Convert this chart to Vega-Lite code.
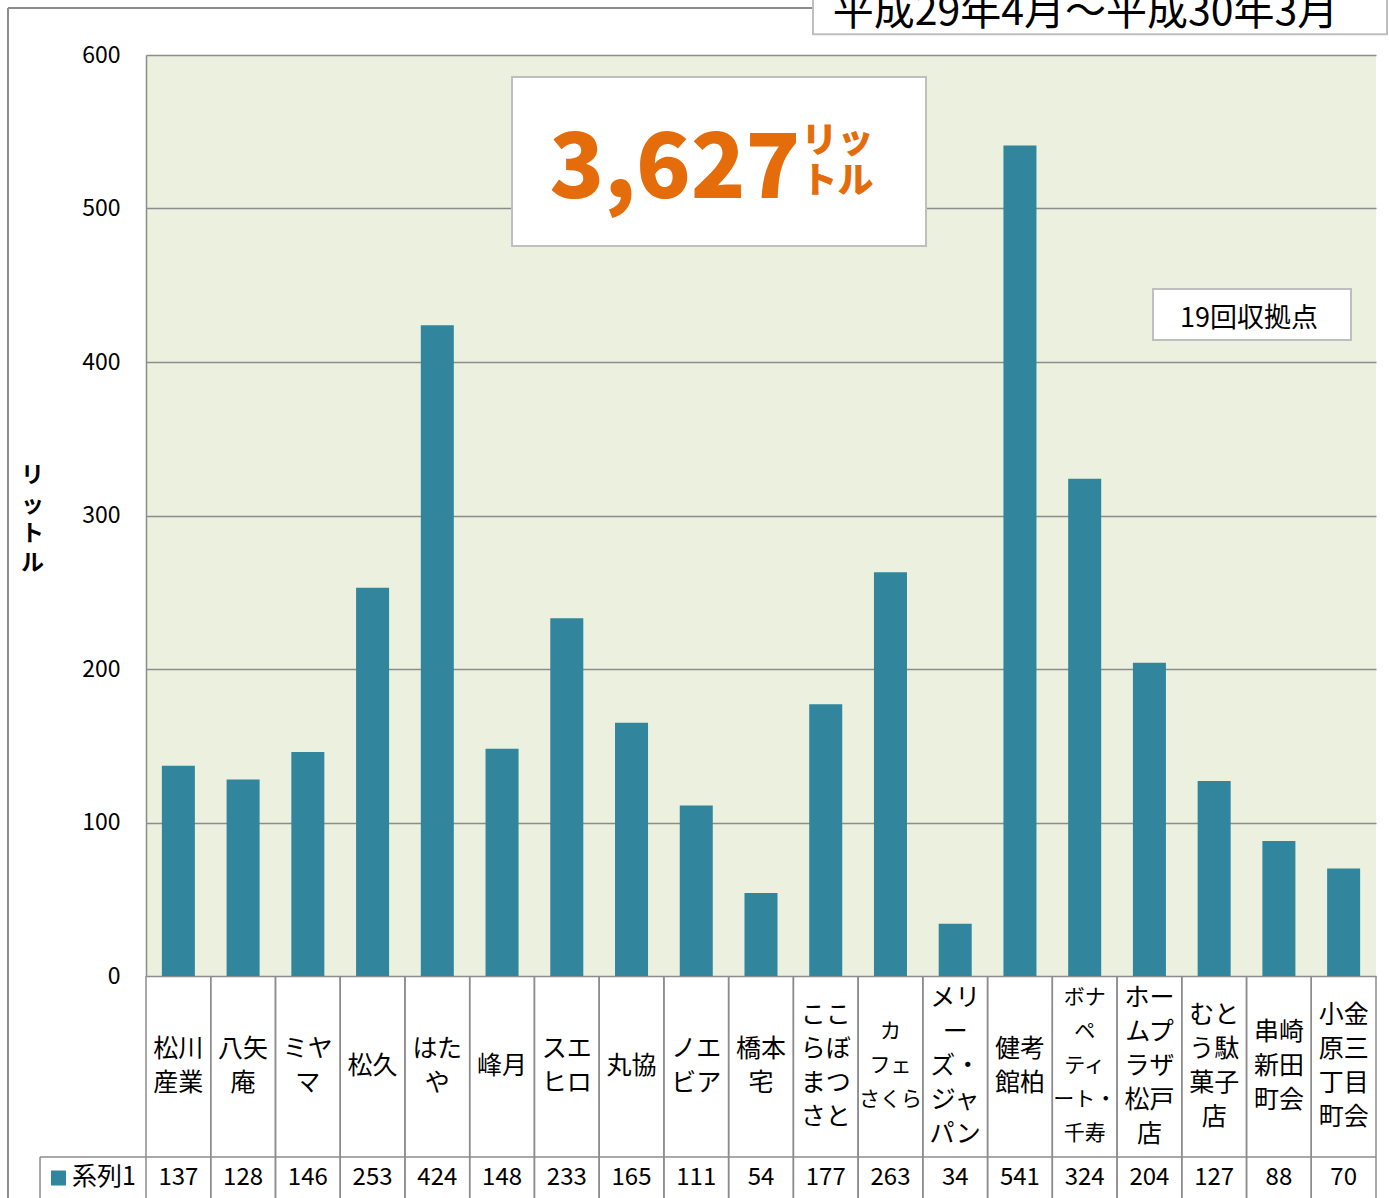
{
  "$schema": "https://vega.github.io/schema/vega-lite/v6.json",
  "width": 1230,
  "height": 921,
  "autosize": {"type": "none"},
  "padding": {"left": 146, "top": 55, "right": 13, "bottom": 222},
  "background": "white",
  "config": {
    "view": {"fill": "#EBF1DE", "stroke": null},
    "font": "Noto Sans CJK JP",
    "text": {"font": "Noto Sans CJK JP", "color": "black"}
  },
  "datasets": {
    "bars": [
      {"cat": "松川\n産業", "value": 137},
      {"cat": "八矢\n庵", "value": 128},
      {"cat": "ミヤ\nマ", "value": 146},
      {"cat": "松久", "value": 253},
      {"cat": "はた\nや", "value": 424},
      {"cat": "峰月", "value": 148},
      {"cat": "スエ\nヒロ", "value": 233},
      {"cat": "丸協", "value": 165},
      {"cat": "ノエ\nビア", "value": 111},
      {"cat": "橋本\n宅", "value": 54},
      {"cat": "ここ\nらぼ\nまつ\nさと", "value": 177},
      {"cat": "カ\nフェ\nさくら", "value": 263},
      {"cat": "メリ\nー\nズ・\nジャ\nパン", "value": 34},
      {"cat": "健考\n館柏", "value": 541},
      {"cat": "ボナ\nペ\nティ\nート・\n千寿", "value": 324},
      {"cat": "ホー\nムプ\nラザ\n松戸\n店", "value": 204},
      {"cat": "むと\nう駄\n菓子\n店", "value": 127},
      {"cat": "串崎\n新田\n町会", "value": 88},
      {"cat": "小金\n原三\n丁目\n町会", "value": 70}
    ]
  },
  "resolve": {"scale": {"x": "independent"}},
  "layer": [
    {
      "data": {"name": "bars"},
      "mark": {"type": "bar", "color": "#31859C"},
      "encoding": {
        "x": {
          "field": "cat", "type": "nominal", "sort": null,
          "scale": {"paddingInner": 0.49, "paddingOuter": 0.245},
          "axis": null
        },
        "y": {
          "field": "value", "type": "quantitative",
          "scale": {"domain": [0, 600], "nice": false},
          "axis": {
            "zindex": 0,
            "title": ["リ", "ッ", "ト", "ル"], "titleAngle": 0, "titleX": -114, "titleY": 420,
            "titleAlign": "center", "titleBaseline": "middle", "titleFontSize": 23, "titleFontWeight": "bold",
            "titleLineHeight": 29, "titleColor": "black", "titleFont": "Noto Sans CJK JP",
            "values": [0, 100, 200, 300, 400, 500, 600],
            "grid": true, "gridColor": "#8C8C8C", "gridWidth": 1.5,
            "domain": true, "domainColor": "#8C8C8C", "domainWidth": 1.5,
            "ticks": false, "labelFontSize": 23, "labelPadding": 26, "labelColor": "black", "labelFont": "Noto Sans CJK JP"
          }
        }
      }
    },
    {
      "data": {"name": "bars"},
      "mark": {
        "type": "text", "lineHeight": 34, "lineBreak": "\n",
        "baseline": "middle", "align": "center", "color": "black",
        "fontSize": {"expr": "test(regexp('[^\\n]{3}'), datum.cat) ? 21 : 25"},
        "dy": {"expr": "-(length(split(datum.cat, '\\n')) - 1) * 17"}
      },
      "encoding": {
        "x": {"field": "cat", "type": "nominal", "sort": null, "scale": {"paddingInner": 0.49, "paddingOuter": 0.245}, "axis": null},
        "y": {"datum": -58.6, "type": "quantitative"},
        "text": {"field": "cat", "type": "nominal"}
      }
    },
    {
      "data": {"values": [{}]},
      "mark": {"type": "rule", "color": "#8C8C8C", "strokeWidth": 2},
      "encoding": {
        "x": {"datum": -2.132, "type": "quantitative", "scale": {"domain": [0, 19], "nice": false, "zero": false}, "axis": null},
        "x2": {"datum": 10.303},
        "y": {"datum": 630.6, "type": "quantitative"}
      }
    },
    {
      "data": {"values": [{}]},
      "mark": {"type": "rule", "color": "#8C8C8C", "strokeWidth": 2},
      "encoding": {
        "x": {"datum": -2.132, "type": "quantitative", "scale": {"domain": [0, 19], "nice": false, "zero": false}, "axis": null},
        "y": {"datum": 630.6, "type": "quantitative"},
        "y2": {"datum": -150}
      }
    },
    {
      "data": {"name": "bars"},
      "mark": {"type": "rule", "color": "#8C8C8C", "strokeWidth": 1.5},
      "encoding": {
        "x": {"field": "cat", "type": "nominal", "sort": null, "bandPosition": 0, "scale": {"paddingInner": 0, "paddingOuter": 0}, "axis": null},
        "y": {"datum": 0, "type": "quantitative"},
        "y2": {"datum": -150}
      }
    },
    {
      "data": {"name": "bars"},
      "mark": {"type": "rule", "color": "#8C8C8C", "strokeWidth": 1.5},
      "encoding": {
        "x": {"field": "cat", "type": "nominal", "sort": null, "bandPosition": 1, "scale": {"paddingInner": 0, "paddingOuter": 0}, "axis": null},
        "y": {"datum": 0, "type": "quantitative"},
        "y2": {"datum": -150}
      }
    },
    {
      "data": {"values": [{}]},
      "mark": {"type": "rule", "color": "#8C8C8C", "strokeWidth": 1.5},
      "encoding": {
        "x": {"datum": -1.637, "type": "quantitative", "scale": {"domain": [0, 19], "nice": false, "zero": false}, "axis": null},
        "x2": {"datum": 19},
        "y": {"datum": -117.9, "type": "quantitative"}
      }
    },
    {
      "data": {"values": [{}]},
      "mark": {"type": "rule", "color": "#8C8C8C", "strokeWidth": 1.5},
      "encoding": {
        "x": {"datum": -1.637, "type": "quantitative", "scale": {"domain": [0, 19], "nice": false, "zero": false}, "axis": null},
        "y": {"datum": -117.9, "type": "quantitative"},
        "y2": {"datum": -150}
      }
    },
    {
      "data": {"name": "bars"},
      "mark": {"type": "text", "fontSize": 24, "baseline": "middle", "align": "center", "color": "black"},
      "encoding": {
        "x": {"field": "cat", "type": "nominal", "sort": null, "scale": {"paddingInner": 0.49, "paddingOuter": 0.245}, "axis": null},
        "y": {"datum": -131.6, "type": "quantitative"},
        "text": {"field": "value", "type": "quantitative"}
      }
    },
    {
      "data": {"values": [{}]},
      "mark": {"type": "square", "size": 225, "color": "#31859C", "opacity": 1, "filled": true},
      "encoding": {
        "x": {"datum": -1.352, "type": "quantitative", "scale": {"domain": [0, 19], "nice": false, "zero": false}, "axis": null},
        "y": {"datum": -131.6, "type": "quantitative"}
      }
    },
    {
      "data": {"values": [{}]},
      "mark": {"type": "text", "text": "系列1", "fontSize": 25, "align": "left", "baseline": "middle", "color": "black"},
      "encoding": {
        "x": {"datum": -1.143, "type": "quantitative", "scale": {"domain": [0, 19], "nice": false, "zero": false}, "axis": null},
        "y": {"datum": -131.0, "type": "quantitative"}
      }
    },
    {
      "data": {"values": [{}]},
      "mark": {"type": "rect", "fill": "white", "stroke": "#BFBFBF", "strokeWidth": 2},
      "encoding": {
        "x": {"datum": 5.654, "type": "quantitative", "scale": {"domain": [0, 19], "nice": false, "zero": false}, "axis": null},
        "x2": {"datum": 12.049},
        "y": {"datum": 585.7, "type": "quantitative"},
        "y2": {"datum": 475.6}
      }
    },
    {
      "data": {"values": [{}]},
      "mark": {"type": "text", "text": "3,627", "fontSize": 90, "fontWeight": 900, "align": "center", "baseline": "alphabetic", "color": "#E46C0A"},
      "encoding": {
        "x": {"datum": 8.17, "type": "quantitative", "scale": {"domain": [0, 19], "nice": false, "zero": false}, "axis": null},
        "y": {"datum": 506.8, "type": "quantitative"}
      }
    },
    {
      "data": {"values": [{}]},
      "mark": {"type": "text", "text": ["リッ", "トル"], "fontSize": 36, "lineHeight": 40, "fontWeight": 900, "align": "center", "baseline": "middle", "color": "#E46C0A"},
      "encoding": {
        "x": {"datum": 10.68, "type": "quantitative", "scale": {"domain": [0, 19], "nice": false, "zero": false}, "axis": null},
        "y": {"datum": 543.6, "type": "quantitative"}
      }
    },
    {
      "data": {"values": [{}]},
      "mark": {"type": "rect", "fill": "white", "stroke": "#BFBFBF", "strokeWidth": 2},
      "encoding": {
        "x": {"datum": 15.555, "type": "quantitative", "scale": {"domain": [0, 19], "nice": false, "zero": false}, "axis": null},
        "x2": {"datum": 18.614},
        "y": {"datum": 447.6, "type": "quantitative"},
        "y2": {"datum": 414.3}
      }
    },
    {
      "data": {"values": [{}]},
      "mark": {"type": "text", "text": "19回収拠点", "fontSize": 27, "align": "center", "baseline": "middle", "color": "black"},
      "encoding": {
        "x": {"datum": 17.038, "type": "quantitative", "scale": {"domain": [0, 19], "nice": false, "zero": false}, "axis": null},
        "y": {"datum": 428.0, "type": "quantitative"}
      }
    },
    {
      "data": {"values": [{}]},
      "mark": {"type": "rect", "fill": "white", "stroke": "#BFBFBF", "strokeWidth": 2},
      "encoding": {
        "x": {"datum": 10.303, "type": "quantitative", "scale": {"domain": [0, 19], "nice": false, "zero": false}, "axis": null},
        "x2": {"datum": 19.17},
        "y": {"datum": 665, "type": "quantitative"},
        "y2": {"datum": 613.5}
      }
    },
    {
      "data": {"values": [{}]},
      "mark": {"type": "text", "text": "平成29年4月～平成30年3月", "fontSize": 41, "align": "center", "baseline": "alphabetic", "color": "black"},
      "encoding": {
        "x": {"datum": 14.513, "type": "quantitative", "scale": {"domain": [0, 19], "nice": false, "zero": false}, "axis": null},
        "y": {"datum": 619.5, "type": "quantitative"}
      }
    }
  ]
}
